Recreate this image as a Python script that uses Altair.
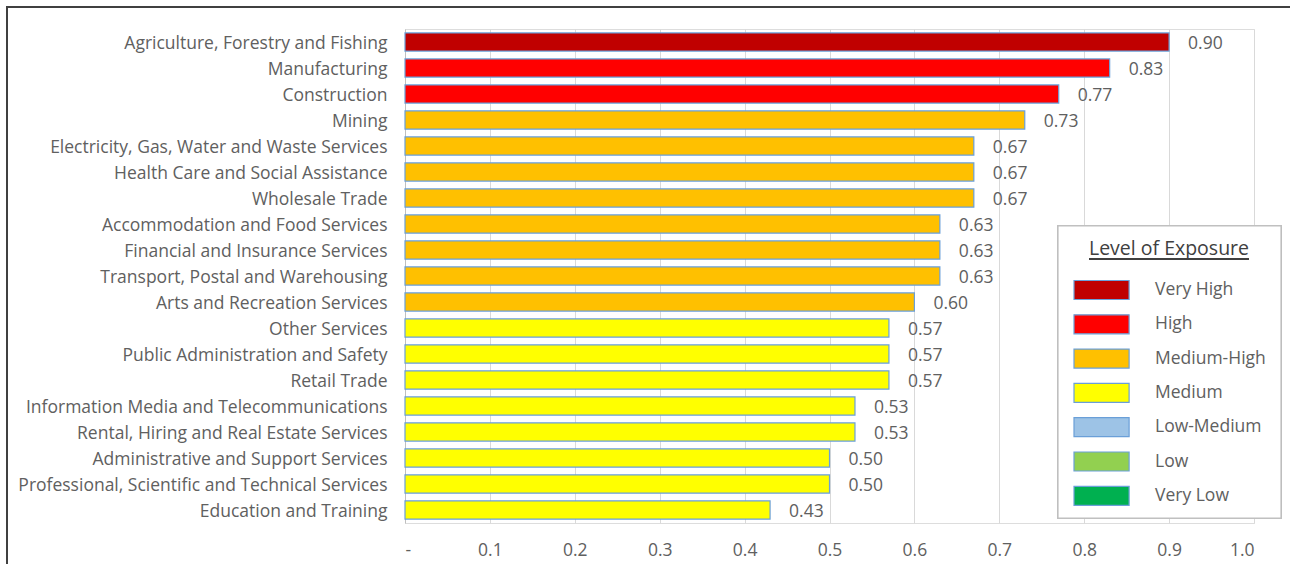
import altair as alt
import pandas as pd

industries = [
    "Agriculture, Forestry and Fishing",
    "Manufacturing",
    "Construction",
    "Mining",
    "Electricity, Gas, Water and Waste Services",
    "Health Care and Social Assistance",
    "Wholesale Trade",
    "Accommodation and Food Services",
    "Financial and Insurance Services",
    "Transport, Postal and Warehousing",
    "Arts and Recreation Services",
    "Other Services",
    "Public Administration and Safety",
    "Retail Trade",
    "Information Media and Telecommunications",
    "Rental, Hiring and Real Estate Services",
    "Administrative and Support Services",
    "Professional, Scientific and Technical Services",
    "Education and Training",
]
exposure = [0.90, 0.83, 0.77, 0.73, 0.67, 0.67, 0.67, 0.63, 0.63, 0.63,
            0.60, 0.57, 0.57, 0.57, 0.53, 0.53, 0.50, 0.50, 0.43]
level = ["Very High", "High", "High", "Medium-High", "Medium-High", "Medium-High",
         "Medium-High", "Medium-High", "Medium-High", "Medium-High", "Medium-High",
         "Medium", "Medium", "Medium", "Medium", "Medium", "Medium", "Medium", "Medium"]

levels = ["Very High", "High", "Medium-High", "Medium", "Low-Medium", "Low", "Very Low"]
level_colors = ["#C00000", "#FF0000", "#FFC000", "#FFFF00", "#9DC3E6", "#92D050", "#00B050"]

df = pd.DataFrame({"industry": industries, "exposure": exposure, "level": level})

FONT = "Open Sans"
GREY = "#606060"
OUTLINE = "#6A9FD8"
FS = 17.5

y_enc = alt.Y(
    "industry:N",
    sort=industries,
    title=None,
    scale=alt.Scale(paddingInner=0.3, paddingOuter=0.15),
    axis=alt.Axis(
        domain=True, domainColor="#BFBFBF", ticks=False, grid=False,
        labelPadding=18, labelOffset=1.5, labelFontSize=FS, labelColor=GREY,
        labelFont=FONT, labelLimit=400,
    ),
)
x_enc = alt.X(
    "exposure:Q",
    title=None,
    scale=alt.Scale(domain=[0, 1], nice=False),
    axis=alt.Axis(
        values=[0, 0.1, 0.2, 0.3, 0.4, 0.5, 0.6, 0.7, 0.8, 0.9, 1.0],
        labelExpr="datum.value == 0 ? '-' : format(datum.value, '.1f')",
        domain=False, ticks=False, grid=True, gridColor="#D9D9D9",
        labelPadding=18, labelFontSize=FS, labelColor=GREY, labelFont=FONT,
    ),
)

# wide swatch: a rectangle drawn to the right of the symbol anchor
swatch = "M-1,-1H4.8V1H-1Z"

bars = alt.Chart(df).mark_bar(stroke=OUTLINE, strokeWidth=1.2).encode(
    y=y_enc,
    x=x_enc,
    color=alt.Color(
        "level:N",
        scale=alt.Scale(domain=levels, range=level_colors),
        legend=alt.Legend(
            title="Level of Exposure",
            orient="none", legendX=653, legendY=196,
            direction="vertical",
            padding=15,
            titleFont=FONT, titleFontSize=19.5, titleFontWeight="normal",
            titleColor="#404040", titleAnchor="middle", titlePadding=20,
            labelFont=FONT, labelFontSize=FS, labelColor=GREY, labelOffset=61,
            symbolType=swatch, symbolSize=361,
            symbolStrokeColor=OUTLINE, symbolStrokeWidth=1.2,
            symbolOpacity=1, rowPadding=9.3,
        ),
    ),
)

values = alt.Chart(df).mark_text(
    align="left", baseline="middle", dx=19, dy=1.5, font=FONT, fontSize=FS, color=GREY
).encode(
    y=alt.Y("industry:N", sort=industries),
    x="exposure:Q",
    text=alt.Text("exposure:Q", format=".2f"),
)

# white panel behind the legend
legend_box = alt.Chart(df).mark_rect(
    fill="white", stroke="#BFBFBF", strokeWidth=1.2
).encode(
    x=alt.value(653), x2=alt.value(876), y=alt.value(197), y2=alt.value(489)
)

# underline beneath the legend title
underline = alt.Chart(df).mark_rule(color="#404040", strokeWidth=1).encode(
    x=alt.value(684), x2=alt.value(844), y=alt.value(230)
)

# outer frame around the figure
frame = alt.Chart(df).mark_rect(
    fill=None, stroke="#404040", strokeWidth=1.5
).encode(
    x=alt.value(-398), x2=alt.value(895), y=alt.value(-22), y2=alt.value(545)
)

chart = alt.layer(frame, bars, values, legend_box, underline).properties(
    width=849,
    height=494,
    autosize=alt.AutoSizeParams(type="none"),
    padding={"left": 405, "top": 29, "right": 36, "bottom": 41},
).configure_view(stroke=None).configure(background="white")

chart.save("out.html", embed_options={"renderer": "svg", "actions": False})
